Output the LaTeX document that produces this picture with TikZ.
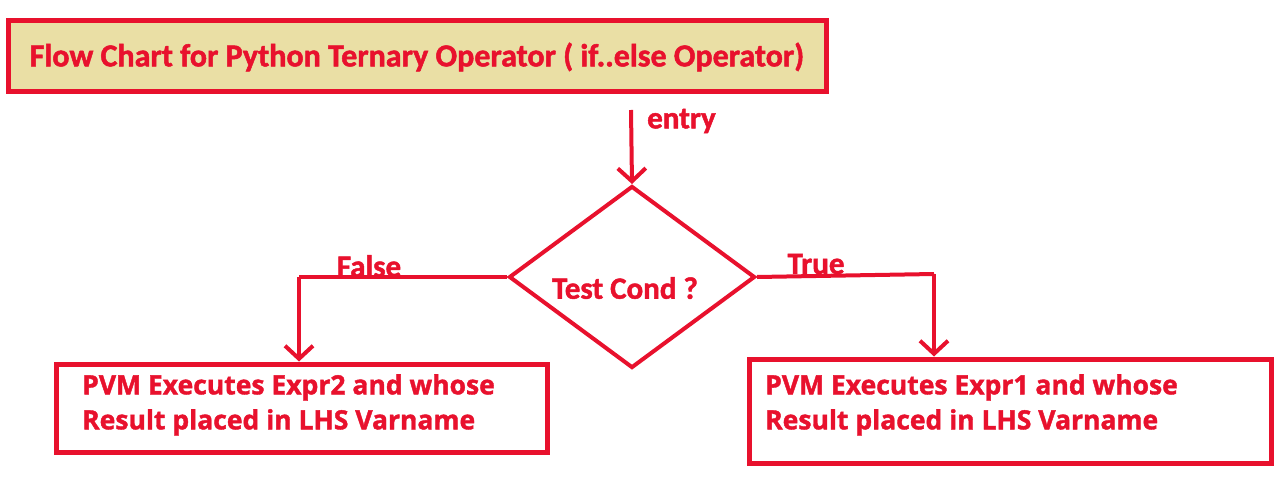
\documentclass[tikz,border=0pt]{standalone}
\usepackage{fontspec}
\setmainfont{Open Sans}[BoldFeatures={FakeBold=1.5}]
\newfontfamily\titlefont{Carlito}[BoldFeatures={FakeBold=1.5}]
\usetikzlibrary{shapes.geometric,arrows.meta}
\definecolor{redc}{HTML}{E8112D}
\definecolor{khaki}{HTML}{EADFA5}
\tikzset{
  boxstyle/.style={draw=redc,line width=5pt,inner sep=0pt},
  txt/.style={text=redc,font=\bfseries\fontsize{26.5}{35}\selectfont,align=left,inner sep=0pt},
  lbl/.style={text=redc,font=\titlefont\bfseries\fontsize{31}{34}\selectfont,inner sep=0pt},
  conn/.style={draw=redc,line width=4pt,-{Straight Barb[length=13pt,width=28pt,line width=4pt]}},
  plain/.style={draw=redc,line width=4pt}
}
\begin{document}
\begin{tikzpicture}[x=1pt,y=-1pt]
\useasboundingbox (0,0) rectangle (1287,481);
% title
\node[boxstyle,fill=khaki,minimum width=818pt,minimum height=71pt,anchor=north west] (title) at (5.5,18.5) {};
\node[text=redc,font=\titlefont\bfseries\fontsize{32}{34}\selectfont,inner sep=0pt] (tt) at (417,57) {Flow Chart for Python Ternary Operator ( if..else Operator)};
% diamond
\node[draw=redc,line width=4pt,diamond,minimum width=246pt,minimum height=182pt,inner sep=0pt] (d) at (632,277) {};
\node[lbl] (dt) at (625,288) {Test Cond ?};
% entry
\coordinate (e) at (631,110);
\draw[conn] (e) -- (d.north);
\node[lbl,anchor=west] (el) at (647,121) {entry};
% boxes
\node[boxstyle,minimum width=491pt,minimum height=88pt,anchor=north west] (lb) at (53.5,361.5) {};
\node[txt,anchor=north west] (lt) at (82,374) {PVM Executes Expr2 and whose\\Result placed in LHS Varname};
\node[boxstyle,minimum width=522pt,minimum height=104pt,anchor=north west] (rb) at (746.5,356.5) {};
\node[txt,anchor=north west] (rt) at (765,374) {PVM Executes Expr1 and whose\\Result placed in LHS Varname};
% branches
\coordinate (lt1) at (299,277);
\coordinate (rt1) at (934,274);
\draw[plain] (d.west) -- (lt1);
\draw[conn] (lt1) -- (lt1 |- lb.north);
\draw[plain] (d.east) -- (rt1);
\draw[conn] (rt1) -- (rt1 |- rb.north);
\node[lbl] (fl) at (369,266) {False};
\node[lbl] (tl) at (816,264) {True};
\end{tikzpicture}
\end{document}
